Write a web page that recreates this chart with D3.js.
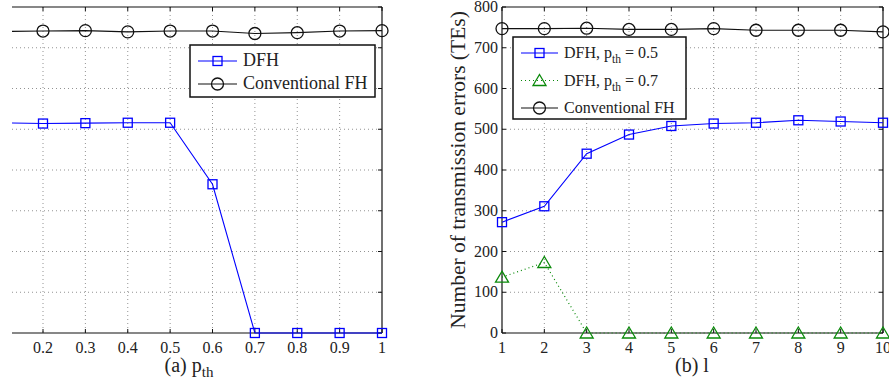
<!DOCTYPE html>
<html>
<head>
<meta charset="utf-8">
<script src="https://cdn.jsdelivr.net/npm/d3@7"></script>
<style>
  body { margin: 0; background: #fff; }
  svg { display: block; }
  text { font-family: "Liberation Serif", "Times New Roman", serif; fill: #222; }
</style>
</head>
<body>
<div class="chart"></div>
<script>
// (a) errors vs p_th
var pthVals = [0.1, 0.2, 0.3, 0.4, 0.5, 0.6, 0.7, 0.8, 0.9, 1.0];
var pthTicks = [0.2, 0.3, 0.4, 0.5, 0.6, 0.7, 0.8, 0.9, 1];
var dfhA = [516, 514, 515, 516, 516, 365, 0, 0, 0, 0];
var convA = [740, 741, 742, 739, 741, 741, 735, 737, 741, 742];

// (b) errors vs l
var lVals = [1, 2, 3, 4, 5, 6, 7, 8, 9, 10];
var dfh05 = [272, 311, 440, 487, 508, 514, 516, 522, 519, 516];
var dfh07 = [137, 173, 0, 0, 0, 0, 0, 0, 0, 0];
var convB = [747, 747, 748, 745, 745, 747, 743, 743, 743, 739];

var yTicks = [0, 100, 200, 300, 400, 500, 600, 700, 800];

var W = 889, H = 387;
var plotTop = 7, plotBottom = 333;

var svg = d3.select(".chart").append("svg")
    .attr("width", W)
    .attr("height", H);

var y = d3.scaleLinear().domain([0, 800]).range([plotBottom, plotTop]);

var BLUE = "#0000ff", GREEN = "#0a8a0a", BLACK = "#111";

function drawMarker(g, type, cx, cy, color) {
    if (type == "square") {
        g.append("rect")
            .attr("x", cx - 4.5).attr("y", cy - 4.5)
            .attr("width", 9).attr("height", 9)
            .attr("fill", "none").attr("stroke", color).attr("stroke-width", 1.3);
    } else if (type == "circle") {
        g.append("circle")
            .attr("cx", cx).attr("cy", cy).attr("r", 6)
            .attr("fill", "none").attr("stroke", color).attr("stroke-width", 1.3);
    } else {
        g.append("path")
            .attr("d", "M" + cx + "," + (cy - 6) + "L" + (cx + 6.5) + "," + (cy + 5) + "L" + (cx - 6.5) + "," + (cy + 5) + "Z")
            .attr("fill", "none").attr("stroke", color).attr("stroke-width", 1.3);
    }
}

function panel(opts) {
    var x = opts.x;
    var left = opts.left, right = opts.right;
    var g = svg.append("g");

    // panel (a) is cut at its left side, so clip right at the edge there
    var clipLeft = opts.leftSpine ? left - 8 : left;
    var clipId = "clip" + opts.id;
    svg.append("clipPath").attr("id", clipId)
        .append("rect")
        .attr("x", clipLeft).attr("y", plotTop - 8)
        .attr("width", right + 8 - clipLeft).attr("height", plotBottom - plotTop + 16);

    // grid
    var grid = g.append("g");
    opts.xTicks.forEach(function (t) {
        var px = x(t);
        if (Math.abs(px - right) < 1 || Math.abs(px - left) < 1) return;
        grid.append("line")
            .attr("x1", px).attr("x2", px).attr("y1", plotTop).attr("y2", plotBottom)
            .attr("stroke", "#777").attr("stroke-width", 0.8).attr("stroke-dasharray", "1,3");
    });
    yTicks.forEach(function (t) {
        var py = y(t);
        if (t == 0 || t == 800) return;
        grid.append("line")
            .attr("x1", left).attr("x2", right).attr("y1", py).attr("y2", py)
            .attr("stroke", "#777").attr("stroke-width", 0.8).attr("stroke-dasharray", "1,3");
    });

    // box
    g.append("line").attr("x1", left).attr("x2", right).attr("y1", plotTop).attr("y2", plotTop)
        .attr("stroke", BLACK).attr("stroke-width", 1.2);
    g.append("line").attr("x1", left).attr("x2", right).attr("y1", plotBottom).attr("y2", plotBottom)
        .attr("stroke", BLACK).attr("stroke-width", 1.2);
    g.append("line").attr("x1", right).attr("x2", right).attr("y1", plotTop).attr("y2", plotBottom)
        .attr("stroke", BLACK).attr("stroke-width", 1.2);
    if (opts.leftSpine) {
        g.append("line").attr("x1", left).attr("x2", left).attr("y1", plotTop).attr("y2", plotBottom)
            .attr("stroke", BLACK).attr("stroke-width", 1.2);
    }

    // ticks on box (inward)
    opts.xTicks.forEach(function (t) {
        var px = x(t);
        g.append("line").attr("x1", px).attr("x2", px).attr("y1", plotBottom).attr("y2", plotBottom - 4)
            .attr("stroke", BLACK);
        g.append("line").attr("x1", px).attr("x2", px).attr("y1", plotTop).attr("y2", plotTop + 4)
            .attr("stroke", BLACK);
    });
    yTicks.forEach(function (t) {
        var py = y(t);
        g.append("line").attr("x1", right).attr("x2", right - 4).attr("y1", py).attr("y2", py)
            .attr("stroke", BLACK);
        if (opts.leftSpine) {
            g.append("line").attr("x1", left).attr("x2", left + 4).attr("y1", py).attr("y2", py)
                .attr("stroke", BLACK);
        }
    });

    // x tick labels
    g.append("g").selectAll("text")
        .data(opts.xTicks)
        .enter().append("text")
        .attr("x", function (d) { return x(d); })
        .attr("y", 353)
        .attr("text-anchor", "middle")
        .attr("font-size", 16)
        .text(function (d) { return d; });

    if (opts.leftSpine) {
        g.append("g").selectAll("text")
            .data(yTicks)
            .enter().append("text")
            .attr("x", left - 4)
            .attr("y", function (d) { return y(d) + 5; })
            .attr("text-anchor", "end")
            .attr("font-size", 16)
            .text(function (d) { return d; });
    }

    // series
    var plot = g.append("g").attr("clip-path", "url(#" + clipId + ")");
    opts.series.forEach(function (s) {
        var line = d3.line()
            .x(function (d, i) { return x(opts.xVals[i]); })
            .y(function (d) { return y(d); });
        plot.append("path")
            .datum(s.values)
            .attr("d", line)
            .attr("fill", "none")
            .attr("stroke", s.color)
            .attr("stroke-width", s.dash ? 1.2 : 1.1)
            .attr("stroke-dasharray", s.dash ? "1,3" : null);
        s.values.forEach(function (v, i) {
            var px = x(opts.xVals[i]);
            if (px < left - 2) return;
            drawMarker(plot, s.marker, px, y(v), s.color);
        });
    });

    // legend
    var lg = opts.legend;
    var leg = g.append("g");
    leg.append("rect")
        .attr("x", lg.x).attr("y", lg.y).attr("width", lg.w).attr("height", lg.h)
        .attr("fill", "#fff").attr("stroke", BLACK).attr("stroke-width", 1.5);
    opts.series.forEach(function (s, i) {
        var ry = lg.y + lg.row0 + i * lg.rowH;
        leg.append("line")
            .attr("x1", lg.x + 8).attr("x2", lg.x + 8 + lg.lineW)
            .attr("y1", ry).attr("y2", ry)
            .attr("stroke", s.color).attr("stroke-width", 1.1)
            .attr("stroke-dasharray", s.dash ? "1,3" : null);
        drawMarker(leg, s.marker, lg.x + 8 + lg.lineW / 2, ry, s.color);
        var t = leg.append("text")
            .attr("x", lg.x + 14 + lg.lineW)
            .attr("y", ry + 5)
            .attr("font-size", lg.font);
        if (s.sub) {
            t.append("tspan").text(s.label);
            t.append("tspan").attr("dy", 5).attr("font-size", lg.font * 0.72).text("th");
            t.append("tspan").attr("dy", -5).text(" " + s.after);
        } else {
            t.text(s.label);
        }
    });

    // x label
    var xl = g.append("text")
        .attr("x", opts.xLabelX)
        .attr("y", 372)
        .attr("text-anchor", "middle")
        .attr("font-size", 20);
    xl.append("tspan").text(opts.xLabel);
    if (opts.xLabelSub) {
        xl.append("tspan").attr("dy", 5).attr("font-size", 15).text(opts.xLabelSub);
    }
}

// left panel (a)
var xa = d3.scaleLinear().domain([0.2, 1]).range([43, 382]);
panel({
    id: "a",
    x: xa,
    left: 12, right: 382,
    leftSpine: false,
    xVals: pthVals,
    xTicks: pthTicks,
    series: [
        { label: "DFH", values: dfhA, color: BLUE, marker: "square" },
        { label: "Conventional FH", values: convA, color: BLACK, marker: "circle" }
    ],
    legend: { x: 190, y: 45, w: 185, h: 52, row0: 16, rowH: 23, lineW: 39, font: 18 },
    xLabel: "(a) p",
    xLabelSub: "th",
    xLabelX: 189
});

// right panel (b)
var xb = d3.scaleLinear().domain([1, 10]).range([502, 883]);
panel({
    id: "b",
    x: xb,
    left: 502, right: 883,
    leftSpine: true,
    xVals: lVals,
    xTicks: lVals,
    series: [
        { label: "DFH, p", sub: true, after: "= 0.5", values: dfh05, color: BLUE, marker: "square" },
        { label: "DFH, p", sub: true, after: "= 0.7", values: dfh07, color: GREEN, marker: "triangle", dash: true },
        { label: "Conventional FH", values: convB, color: BLACK, marker: "circle" }
    ],
    legend: { x: 513, y: 37, w: 173, h: 82, row0: 16, rowH: 27.5, lineW: 37, font: 16 },
    xLabel: "(b) l",
    xLabelX: 692
});

// y label
svg.append("text")
    .attr("transform", "translate(465," + ((plotTop + plotBottom) / 2) + ") rotate(-90)")
    .attr("text-anchor", "middle")
    .attr("font-size", 21.5)
    .text("Number of transmission errors (TEs)");
</script>
</body>
</html>
